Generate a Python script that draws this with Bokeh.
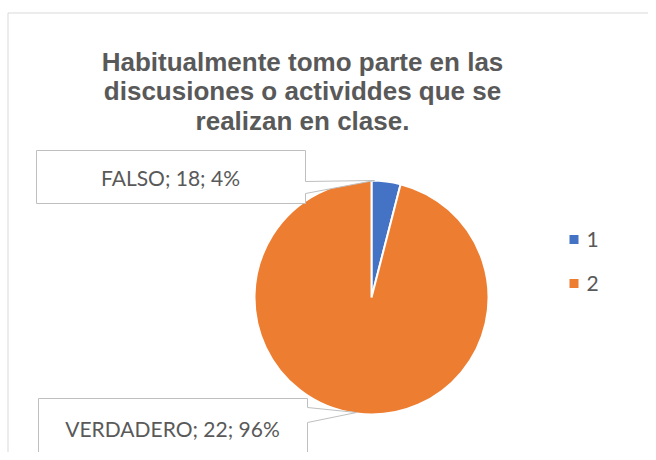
import math
from bokeh.plotting import figure
from bokeh.models import Range1d
from bokeh.core.properties import value
from bokeh.embed import file_html
from bokeh.resources import INLINE

# ---- data ----
categories = ["FALSO", "VERDADERO"]
counts = [18, 22]
percents = [4, 96]
legend_labels = ["1", "2"]
colors = ["#4472C4", "#ED7D31"]
title_lines = ["Habitualmente tomo parte en las",
               "discusiones o actividdes que se",
               "realizan en clase."]

W, H = 648, 452
p = figure(width=W, height=H, output_backend="svg", toolbar_location=None,
           x_range=Range1d(0, W), y_range=Range1d(0, H),
           min_border=0, outline_line_color=None)
p.axis.visible = False
p.grid.visible = False
p.background_fill_color = "white"
p.border_fill_color = "white"

def Y(py):
    return H - py

# chart frame
p.line([7.5, 7.5, W], [Y(H), Y(12.5), Y(12.5)], line_color="#D9D9D9", line_width=1)

# title
for i, t in enumerate(title_lines):
    p.text([302], [Y(61 + 29.5 * i)], text=[t], text_align="center", text_baseline="middle",
           text_font=value("Liberation Sans"), text_font_style="bold",
           text_font_size="26px", text_color="#595959")

# pie
cx, cy, r = 371, 297, 117
total = sum(percents)
start = math.pi / 2
starts, ends = [], []
for v in percents:
    end = start - 2 * math.pi * v / total
    starts.append(start)
    ends.append(end)
    start = end
p.wedge(x=[cx] * 2, y=[Y(cy)] * 2, radius=r, start_angle=starts, end_angle=ends,
        direction="clock", fill_color=colors, line_color="white", line_width=2)

# callouts
def callout(x0, x1, y0, y1, ya, yb, tipx, tipy, text, tx, ty):
    xs = [x0, x1, x1, tipx, x1, x1, x0, x0]
    ys = [y0, y0, ya, tipy, yb, y1, y1, y0]
    p.patch(xs, [Y(v) for v in ys], fill_color="white", line_color="#BFBFBF", line_width=1)
    p.text([tx], [Y(ty)], text=[text], text_align="center", text_baseline="middle",
           text_font=value("Lato"), text_font_size="21px", text_color="#595959")

lab0 = f"{categories[0]}; {counts[0]}; {percents[0]}%"
lab1 = f"{categories[1]}; {counts[1]}; {percents[1]}%"
callout(36, 305, 150, 203, 181, 193, 374, 180, lab0, 170, 177)
callout(38, 307, 398, 452, 407, 422, 356, 412, lab1, 172, 428)

# legend
for i, (lab, c) in enumerate(zip(legend_labels, colors)):
    yy = 239 + 44 * i
    p.rect([573.5], [Y(yy)], width=9, height=9, fill_color=c, line_color=None)
    p.text([586], [Y(yy)], text=[lab], text_align="left", text_baseline="middle",
           text_font=value("Lato"), text_font_size="21px", text_color="#595959")

open("out.html", "w").write(file_html(p, INLINE))
